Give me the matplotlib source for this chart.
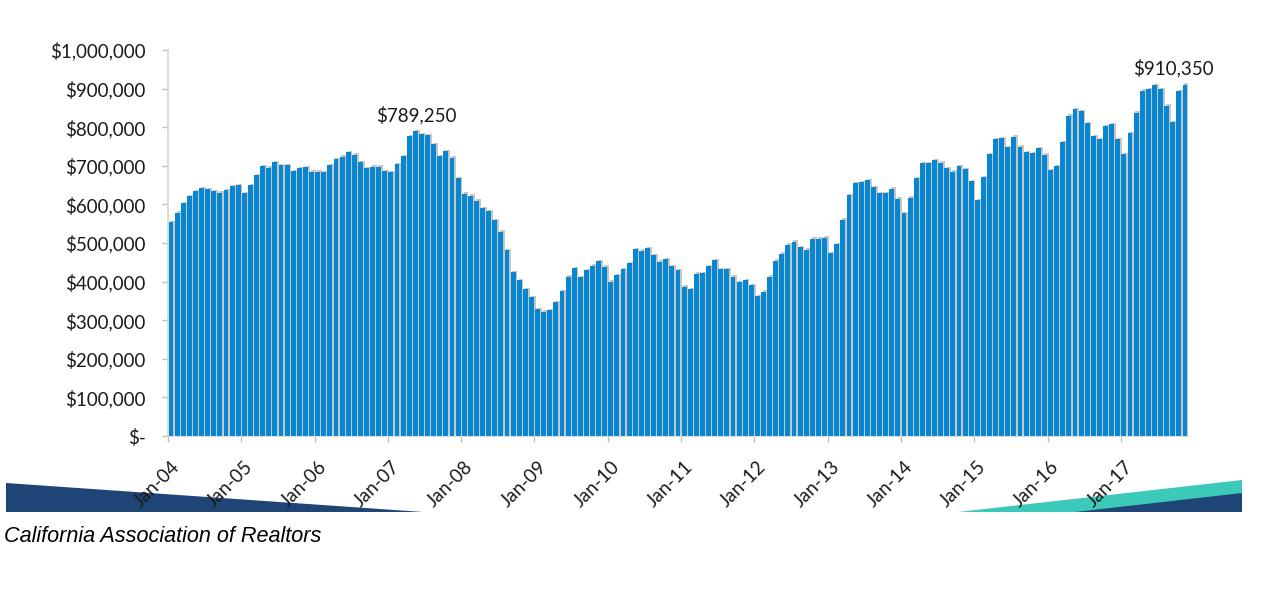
import matplotlib
matplotlib.use("Agg")
import matplotlib.pyplot as plt
import matplotlib.patheffects as pe
from matplotlib.patches import Polygon
from matplotlib.ticker import FuncFormatter
from matplotlib.transforms import ScaledTranslation

# Median price, thousands of dollars, monthly Jan-04 .. Nov-17
y2004 = [553.6, 578.5, 602.8, 621.8, 634.7, 642.5, 639.0, 634.0, 630.4, 636.5, 647.7, 649.4]
y2005 = [630.0, 650.3, 675.4, 698.7, 695.0, 709.8, 702.0, 702.0, 686.5, 693.5, 696.0, 684.7]
y2006 = [684.7, 684.0, 701.0, 716.8, 723.7, 734.9, 728.9, 709.0, 693.5, 697.7, 697.7, 685.5]
y2007 = [683.0, 703.9, 725.4, 777.0, 789.25, 783.0, 779.0, 756.5, 724.6, 738.3, 721.0, 667.6]
y2008 = [627.8, 622.6, 609.6, 589.9, 582.9, 559.6, 529.3, 481.9, 424.9, 404.1, 380.0, 359.3]
y2009 = [329.0, 322.0, 326.4, 347.0, 374.8, 412.7, 435.2, 411.0, 430.0, 441.2, 453.4, 438.6]
y2010 = [399.8, 417.1, 431.8, 447.4, 484.5, 480.1, 486.2, 468.1, 451.6, 457.7, 440.4, 430.0]
y2011 = [386.8, 380.0, 420.5, 422.3, 440.4, 455.1, 431.8, 431.8, 412.7, 399.0, 404.1, 391.2]
y2012 = [362.7, 373.9, 412.7, 454.2, 472.3, 495.6, 503.4, 489.6, 482.7, 511.2, 511.2, 513.8]
y2013 = [474.1, 497.4, 560.4, 624.4, 654.6, 657.2, 663.2, 644.2, 628.8, 628.8, 640.7, 614.8]
y2014 = [576.9, 617.4, 667.6, 706.5, 706.5, 714.2, 708.0, 693.5, 684.7, 698.7, 691.7, 660.6]
y2015 = [610.6, 670.2, 730.6, 769.4, 772.0, 747.9, 775.4, 749.5, 734.9, 732.4, 745.3, 728.9]
y2016 = [689.1, 698.7, 760.9, 830.1, 847.2, 842.0, 810.9, 777.2, 769.4, 802.3, 808.3, 769.4]
y2017 = [730.6, 784.2, 837.6, 894.6, 899.0, 908.5, 898.2, 855.7, 812.7, 893.0, 910.35]

years = [2004, 2005, 2006, 2007, 2008, 2009, 2010, 2011, 2012, 2013, 2014, 2015, 2016, 2017]
series = [y2004, y2005, y2006, y2007, y2008, y2009, y2010, y2011, y2012, y2013, y2014, y2015, y2016, y2017]
tick_labels = ["Jan-%02d" % (y % 100) for y in years]

annot_labels = ["$789,250", "$910,350"]

values = [v * 1000 for ys in series for v in ys]
n = len(values)
idx = list(range(n))

W, H = 1268, 594
fig = plt.figure(figsize=(W / 100, H / 100), dpi=100)
ax = fig.add_axes([168 / W, 1 - 436 / H, (1188 - 168) / W, (436 - 50) / H])
ax.set_zorder(2)
ax.patch.set_alpha(0)

bars = ax.bar(idx, values, width=0.8, color="#0786d1", linewidth=0, zorder=3)
for b in bars:
    b.set_path_effects([pe.SimplePatchShadow(offset=(1.3, 0.9), shadow_rgbFace="#6a6a6a", alpha=0.38),
                        pe.Normal()])

ax.set_xlim(-0.5, n - 0.5)
ax.set_ylim(0, 1_000_000)
ax.set_yticks([i * 100_000 for i in range(11)])
ax.yaxis.set_major_formatter(FuncFormatter(lambda v, p: "$-" if v == 0 else "${:,.0f}".format(v)))

jan_pos = [i * 12 - 0.5 for i in range(len(years))]
ax.set_xticks(jan_pos)
ax.set_xticklabels(tick_labels, rotation=45, ha="right", va="center", rotation_mode="anchor")

for s in ["top", "right"]:
    ax.spines[s].set_visible(False)
for s in ["left", "bottom"]:
    ax.spines[s].set_color("#d9d9d9")
    ax.spines[s].set_linewidth(1.3)

font = "Lato"
ax.tick_params(axis="y", length=4, color="#bfbfbf", width=1, pad=12, labelsize=13.5, labelcolor="#1a1a1a")
ax.tick_params(axis="x", length=4, color="#bfbfbf", width=1, pad=16, labelsize=13.5, labelcolor="#1a1a1a")
for lbl in ax.get_yticklabels() + ax.get_xticklabels():
    lbl.set_fontfamily(font)
for lbl in ax.get_xticklabels():
    lbl.set_transform(lbl.get_transform() + ScaledTranslation(9 / 100, 0, fig.dpi_scale_trans))

# annotations at the two peaks
pk1 = 40
pk2 = n - 1
ax.annotate(annot_labels[0], (pk1, values[pk1]), xytext=(1, 12), textcoords="offset points",
            ha="center", va="center", fontsize=13.5, family=font, color="#1a1a1a")
ax.annotate(annot_labels[1], (pk2, values[pk2]), xytext=(-8, 12), textcoords="offset points",
            ha="center", va="center", fontsize=13.5, family=font, color="#1a1a1a")

# decorative bands at the bottom
def fpts(pts):
    return [(x / W, 1 - y / H) for x, y in pts]

navy = "#1f4476"
teal = "#3cc9b9"
fig.patches.append(Polygon(fpts([(6, 483), (423, 512), (6, 512)]), closed=True, color=navy,
                           transform=fig.transFigure, zorder=0.5, lw=0))
fig.patches.append(Polygon(fpts([(958, 512), (1242, 480), (1242, 512)]), closed=True, color=teal,
                           transform=fig.transFigure, zorder=0.5, lw=0))
fig.patches.append(Polygon(fpts([(1075, 512), (1242, 493), (1242, 512)]), closed=True, color=navy,
                           transform=fig.transFigure, zorder=0.6, lw=0))

fig.text(4 / W, 1 - 537 / H, "California Association of Realtors", style="italic",
         family="Liberation Sans", fontsize=15.6, color="#000000", ha="left", va="center")

fig.savefig("out.png", dpi=100)
